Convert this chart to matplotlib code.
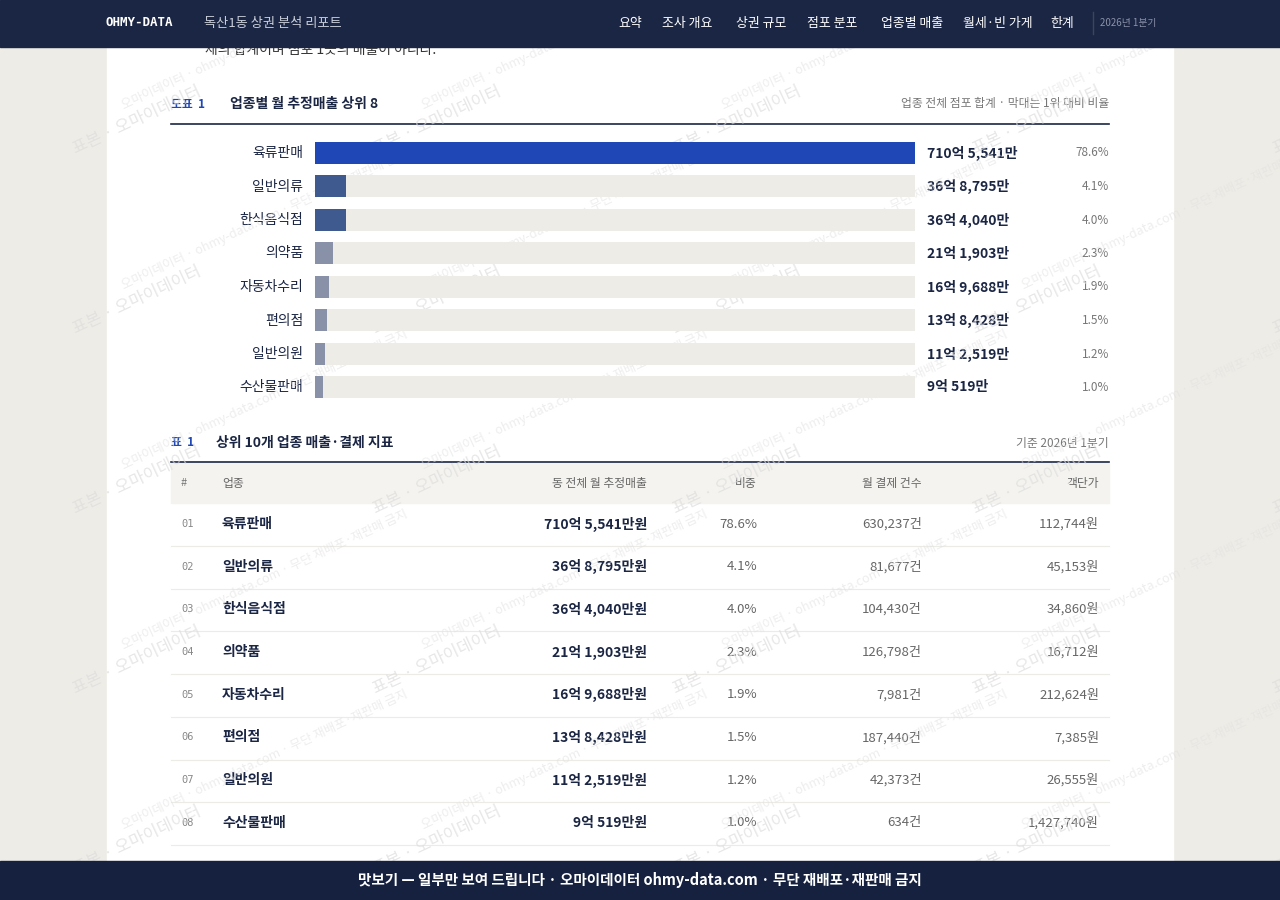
import matplotlib
matplotlib.use("Agg")
import matplotlib.pyplot as plt
from matplotlib.patches import Rectangle

plt.rcParams['font.family'] = ['Noto Sans CJK KR', 'DejaVu Sans']

categories = ['육류판매', '일반의류', '한식음식점', '의약품', '자동차수리', '편의점', '일반의원', '수산물판매']
sales_eok = [710.5541, 36.8795, 36.4040, 21.1903, 16.9688, 13.8428, 11.2519, 9.0519]
sales_labels = ['710억 5,541만', '36억 8,795만', '36억 4,040만', '21억 1,903만', '16억 9,688만', '13억 8,428만', '11억 2,519만', '9억 519만']
shares = ['78.6%', '4.1%', '4.0%', '2.3%', '1.9%', '1.5%', '1.2%', '1.0%']
tx_counts = ['630,237건', '81,677건', '104,430건', '126,798건', '7,981건', '187,440건', '42,373건', '634건']
unit_price = ['112,744원', '45,153원', '34,860원', '16,712원', '212,624원', '7,385원', '26,555원', '1,427,740원']
nav_items = ['요약', '조사 개요', '상권 규모', '점포 분포', '업종별 매출', '월세·빈 가게', '한계']

NAVY = '#1b2644'
fig = plt.figure(figsize=(12.8, 9), dpi=100, facecolor='#eeece6')
ax = fig.add_axes([0, 0, 1, 1])
ax.set_xlim(0, 1280); ax.set_ylim(900, 0); ax.axis('off')

ax.add_patch(Rectangle((107, 0), 1066, 900, color='white', zorder=0))

# watermarks
for yy in range(40, 900, 180):
    for xx in range(60, 1280, 300):
        ax.text(xx + 10, yy + 80, '표본 · 오마이데이터', rotation=25, fontsize=12, color='#dddddd',
                alpha=0.7, zorder=5, ha='left', va='center')
        ax.text(xx + 60, yy, '오마이데이터 · ohmy-data.com · 무단 재배포·재판매 금지', rotation=25,
                fontsize=9, color='#e2e2e2', alpha=0.6, zorder=5, ha='left', va='center')

# header
ax.add_patch(Rectangle((0, 0), 1280, 47, color=NAVY, zorder=10))
ax.text(106, 23, 'OHMY-DATA', color='white', fontsize=9, fontweight='bold', family='DejaVu Sans Mono', va='center', zorder=11)
ax.text(204, 23, '독산1동 상권 분석 리포트', color='#c8cdd8', fontsize=9.5, va='center', zorder=11)
nav_x = [630, 687, 761, 832, 912, 998, 1062]
for t, x in zip(nav_items, nav_x):
    ax.text(x, 23, t, color='white', fontsize=9.3, va='center', ha='center', zorder=11)
ax.plot([1093, 1093], [12, 34], color='#3a4562', lw=1, zorder=11)
ax.text(1100, 23, '2026년 1분기', color='#8a92a8', fontsize=7, va='center', zorder=11)
ax.text(205, 50, '체의 합계이며 점포 1곳의 매출이 아니다.', color='#333333', fontsize=10, va='center', zorder=1)

# chart title
ax.text(171, 104, '도표  1', color='#1f47b5', fontsize=8.5, va='center', fontweight='bold')
ax.text(230, 104, '업종별 월 추정매출 상위 8', color='#1b2644', fontsize=10, va='center', fontweight='bold')
ax.text(1109, 104, '업종 전체 점포 합계 · 막대는 1위 대비 비율', color='#777777', fontsize=8.5, va='center', ha='right')
ax.plot([171, 1109], [124, 124], color=NAVY, lw=1.2)

# bar chart axes (pixels 315..915, 136..404)
bax = fig.add_axes([315/1280, 1-404/900, 600/1280, (404-136)/900])
bax.set_xlim(0, sales_eok[0]); bax.set_ylim(len(categories)-0.5, -0.5); bax.axis('off')
ys = list(range(len(categories)))
bax.barh(ys, [sales_eok[0]]*len(ys), height=0.66, color='#eeece6')
cols = ['#1f47b5', '#3f5a8f', '#3f5a8f'] + ['#8891a8']*5
bax.barh(ys, sales_eok, height=0.66, color=cols)
for i, c in enumerate(categories):
    yp = 153 + i * 33.5
    ax.text(303, yp, c, ha='right', va='center', fontsize=10, color='#1b2644')
    ax.text(927, yp, sales_labels[i], ha='left', va='center', fontsize=10, fontweight='bold', color='#1b2644')
    ax.text(1109, yp, shares[i], ha='right', va='center', fontsize=8.5, color='#777777')

# table
ax.text(171, 443, '표  1', color='#1f47b5', fontsize=8.5, va='center', fontweight='bold')
ax.text(216, 443, '상위 10개 업종 매출·결제 지표', color='#1b2644', fontsize=10, va='center', fontweight='bold')
ax.text(1109, 443, '기준 2026년 1분기', color='#777777', fontsize=8.5, va='center', ha='right')
ax.plot([171, 1109], [462, 462], color=NAVY, lw=1.2)
ax.add_patch(Rectangle((171, 463), 938, 40, color='#f4f3ef', zorder=0.5))
hy = 483
ax.text(181, hy, '#', fontsize=8, color='#777777', va='center')
ax.text(222, hy, '업종', fontsize=8.5, color='#666666', va='center')
ax.text(647, hy, '동 전체 월 추정매출', fontsize=8.5, color='#666666', va='center', ha='right')
ax.text(757, hy, '비중', fontsize=8.5, color='#666666', va='center', ha='right')
ax.text(922, hy, '월 결제 건수', fontsize=8.5, color='#666666', va='center', ha='right')
ax.text(1099, hy, '객단가', fontsize=8.5, color='#666666', va='center', ha='right')
for i, c in enumerate(categories):
    yp = 524 + i * 42.7
    ax.text(181, yp, f'{i+1:02d}', fontsize=7.5, color='#888888', va='center', family='DejaVu Sans Mono')
    ax.text(222, yp, c, fontsize=10, color='#1b2644', va='center', fontweight='bold')
    ax.text(647, yp, sales_labels[i] + '원', fontsize=10, color='#1b2644', va='center', ha='right', fontweight='bold')
    ax.text(757, yp, shares[i], fontsize=9.5, color='#666666', va='center', ha='right')
    ax.text(922, yp, tx_counts[i], fontsize=9.5, color='#666666', va='center', ha='right')
    ax.text(1099, yp, unit_price[i], fontsize=9.5, color='#666666', va='center', ha='right')
    ax.plot([171, 1109], [yp + 22, yp + 22], color='#ecebe6', lw=0.8)

# footer
ax.add_patch(Rectangle((0, 861), 1280, 39, color='#15213f', zorder=10))
ax.text(640, 880, '맛보기 — 일부만 보여 드립니다 · 오마이데이터 ohmy-data.com · 무단 재배포·재판매 금지',
        color='white', fontsize=10.5, fontweight='bold', ha='center', va='center', zorder=11)

fig.savefig('out.png', dpi=100, facecolor=fig.get_facecolor())
